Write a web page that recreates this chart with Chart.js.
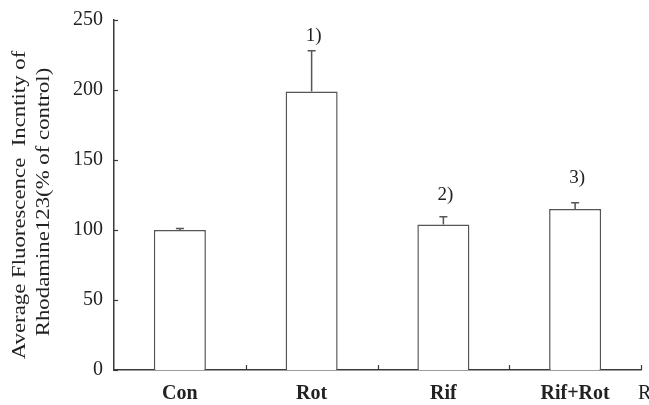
<!DOCTYPE html>
<html>
<head>
<meta charset="utf-8">
<script src="https://cdn.jsdelivr.net/npm/chart.js@4/dist/chart.umd.min.js"></script>
<style>
  html, body { margin: 0; padding: 0; background: #fff; }
  #wrap { width: 649px; height: 405px; }
</style>
</head>
<body>
<div id="wrap"><canvas id="c" width="649" height="405"></canvas></div>
<script>
// Groups and measured Rhodamine 123 fluorescence (% of control)
const categories = ['Con', 'Rot', 'Rif', 'Rif+Rot'];
const means = [100, 199, 104, 115];
const errors = [1, 29, 5.5, 4.5];
const marks = ['', '1)', '2)', '3)'];
const yTicks = [0, 50, 100, 150, 200, 250];
const yTitle = ['Average Fluorescence  Incntity of', 'Rhodamine123(% of control)'];

const SERIF = '"Liberation Serif", "DejaVu Serif", serif';
const INK = '#3a3a3a';

// Error bars, significance marks, inward ticks and the axis title
const overlay = {
  id: 'overlay',
  afterDatasetsDraw(chart, args, opts) {
    const ctx = chart.ctx;
    const x = chart.scales.x, y = chart.scales.y;
    const meta = chart.getDatasetMeta(0);
    ctx.save();
    ctx.strokeStyle = '#555';
    ctx.lineWidth = 1.5;
    meta.data.forEach((bar, i) => {
      const top = y.getPixelForValue(means[i] + errors[i]);
      const base = y.getPixelForValue(means[i]);
      ctx.beginPath();
      ctx.moveTo(bar.x, base);
      ctx.lineTo(bar.x, top);
      ctx.moveTo(bar.x - 4, top);
      ctx.lineTo(bar.x + 4, top);
      ctx.stroke();
      if (marks[i]) {
        ctx.fillStyle = '#222';
        ctx.font = '19px ' + SERIF;
        ctx.textAlign = 'center';
        ctx.textBaseline = 'alphabetic';
        ctx.fillText(marks[i], bar.x + 2, top - opts.markGap[i]);
      }
    });
    // inward tick marks
    ctx.strokeStyle = INK;
    ctx.lineWidth = 1.2;
    yTicks.forEach(v => {
      const py = Math.round(y.getPixelForValue(v)) + 0.5;
      ctx.beginPath();
      ctx.moveTo(x.left, py);
      ctx.lineTo(x.left + 4, py);
      ctx.stroke();
    });
    const w = (x.right - x.left) / categories.length;
    for (let i = 1; i <= categories.length; i++) {
      const px = Math.round(x.left + i * w) + 0.5;
      ctx.beginPath();
      ctx.moveTo(px, y.bottom);
      ctx.lineTo(px, y.bottom - 5);
      ctx.stroke();
    }
    // axis title, two rotated lines in a wide serif face
    ctx.fillStyle = '#222';
    ctx.font = '19px ' + SERIF;
    ctx.textAlign = 'center';
    ctx.textBaseline = 'alphabetic';
    [[25, 205], [49, 202]].forEach(([bx, cy], k) => {
      ctx.save();
      ctx.translate(bx, cy);
      ctx.rotate(-Math.PI / 2);
      ctx.scale(1.2, 1);
      ctx.fillText(yTitle[k], 0, 0);
      ctx.restore();
    });
    // trailing letter at the right edge
    ctx.font = '20px ' + SERIF;
    ctx.textAlign = 'left';
    ctx.fillText('R', 638, 399);
    ctx.restore();
  }
};

new Chart(document.getElementById('c'), {
  type: 'bar',
  data: {
    labels: categories,
    datasets: [{
      data: means,
      backgroundColor: '#ffffff',
      borderColor: '#555',
      borderWidth: 1.5,
      barPercentage: 0.395,
      categoryPercentage: 1.0
    }]
  },
  options: {
    responsive: false,
    animation: false,
    events: [],
    layout: { padding: { left: 0, right: 8, top: 20, bottom: 0 } },
    plugins: {
      legend: { display: false },
      tooltip: { enabled: false },
      overlay: { markGap: [0, 10, 17, 20] }
    },
    scales: {
      x: {
        offset: true,
        grid: { display: false, drawTicks: false },
        border: { display: true, color: INK, width: 1.5 },
        ticks: {
          color: '#222',
          padding: 12,
          font: { family: SERIF, size: 20, weight: 'bold' }
        },
        afterFit(s) { s.height = 35; s.paddingLeft = 0; s.paddingRight = 0; }
      },
      y: {
        min: 0, max: 250,
        grid: { display: false, drawTicks: false },
        border: { display: true, color: INK, width: 1.5 },
        ticks: {
          stepSize: 50,
          color: '#222',
          padding: 11,
          font: { family: SERIF, size: 20 }
        },
        afterFit(s) { s.width = 114; s.paddingTop = 0; s.paddingBottom = 0; }
      }
    }
  },
  plugins: [overlay]
});
</script>
</body>
</html>
